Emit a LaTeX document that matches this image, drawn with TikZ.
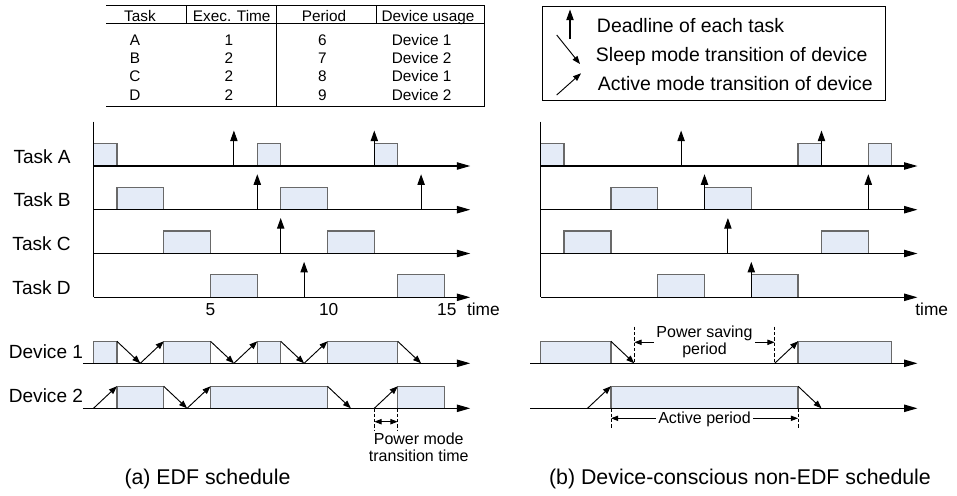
\documentclass[tikz,border=0pt]{standalone}
\usepackage{fontspec}
\setmainfont{Liberation Sans}
\usetikzlibrary{arrows.meta}
\definecolor{boxfill}{RGB}{228,235,247}
\definecolor{boxline}{RGB}{105,105,105}

\begin{document}
\begin{tikzpicture}[x=0.75pt,y=-0.75pt,
  tbox/.style={draw=boxline, fill=boxfill, line width=1pt},
  taxis/.style={line width=0.8pt, -{Triangle[length=10pt,width=5.5pt]}},
  deadline/.style={line width=0.8pt, -{Triangle[length=8pt,width=5.5pt]}},
  trans/.style={line width=0.7pt, -{Triangle[length=6pt,width=4.5pt]}},
  dimline/.style={line width=0.7pt, {Triangle[length=5.5pt,width=4pt]}-{Triangle[length=5.5pt,width=4pt]}},
  guide/.style={line width=0.6pt, dash pattern=on 2.5pt off 1.5pt},
  tabtext/.style={anchor=base, font=\fontsize{11.5}{13}\selectfont},
  rowlabel/.style={anchor=base east, inner sep=0pt, font=\fontsize{14.3}{16}\selectfont},
  legtext/.style={anchor=base west, inner sep=0pt, font=\fontsize{14.6}{16}\selectfont},
  ticktext/.style={anchor=base, inner sep=0pt, font=\fontsize{13}{15}\selectfont},
  note/.style={font=\fontsize{12}{12.5}\selectfont, align=center, inner sep=0pt},
  caption/.style={anchor=base, font=\fontsize{16}{18}\selectfont}]
\useasboundingbox (0,0) rectangle (957,496);
% task table
\draw [line width=0.7pt] (106,5) -- (484,5);
\draw [line width=0.7pt] (106,23.3) -- (484,23.3);
\draw [line width=0.7pt] (106,106.5) -- (484,106.5);
\draw [line width=0.7pt] (186,5) -- (186,23.3);
\draw [line width=0.7pt] (276,5) -- (276,106.5);
\draw [line width=0.7pt] (376.7,5) -- (376.7,23.3);
\draw [line width=0.7pt] (484,5) -- (484,106.5);
\node [tabtext] (hTask) at (140,21.7) {Task};
\node [tabtext] (hExec) at (231.7,21.7) {Exec. Time};
\node [tabtext] (hPeriod) at (324,21.7) {Period};
\node [tabtext] (hDevice) at (428,21.7) {Device usage};
\node [tabtext] (tA) at (135,45) {A};
\node [tabtext] (eA) at (229,45) {1};
\node [tabtext] (pA) at (322.5,45) {6};
\node [tabtext] (dA) at (421.7,45) {Device 1};
\node [tabtext] (tB) at (135,63.3) {B};
\node [tabtext] (eB) at (229,63.3) {2};
\node [tabtext] (pB) at (322.5,63.3) {7};
\node [tabtext] (dB) at (421.7,63.3) {Device 2};
\node [tabtext] (tC) at (135,81.7) {C};
\node [tabtext] (eC) at (229,81.7) {2};
\node [tabtext] (pC) at (322.5,81.7) {8};
\node [tabtext] (dC) at (421.7,81.7) {Device 1};
\node [tabtext] (tD) at (135,100) {D};
\node [tabtext] (eD) at (229,100) {2};
\node [tabtext] (pD) at (322.5,100) {9};
\node [tabtext] (dD) at (421.7,100) {Device 2};
% legend
\draw [line width=0.7pt] (542.7,6.7) rectangle (885,100);
\draw [deadline] (570,39) -- (570,9.5);
\draw [trans] (556.7,35) -- (580,64);
\draw [trans] (556.7,95) -- (581,73.3);
\node [legtext] (legDead) at (596.7,32.3) {Deadline of each task};
\node [legtext] (legSleep) at (595.7,61.7) {Sleep mode transition of device};
\node [legtext] (legActive) at (597.7,90.7) {Active mode transition of device};
% row labels
\node [rowlabel] (lblA) at (71,163.3) {Task A};
\node [rowlabel] (lblB) at (71,206.7) {Task B};
\node [rowlabel] (lblC) at (71,250.5) {Task C};
\node [rowlabel] (lblD) at (71,294.3) {Task D};
\node [rowlabel] (lblDev1) at (83.3,358.3) {Device 1};
\node [rowlabel] (lblDev2) at (83.3,402.8) {Device 2};
% (a) EDF schedule
\begin{scope}[shift={(93.5,0)}, x=17.55pt]
\draw [tbox] (0,166) rectangle (1,143.5);
\draw [tbox] (7,166) rectangle (8,143.5);
\draw [tbox] (12,166) rectangle (13,143.5);
\draw [tbox] (1,209.7) rectangle (3,187.2);
\draw [tbox] (8,209.7) rectangle (10,187.2);
\draw [tbox] (3,253.5) rectangle (5,231);
\draw [tbox] (10,253.5) rectangle (12,231);
\draw [tbox] (5,297.3) rectangle (7,274.8);
\draw [tbox] (13,297.3) rectangle (15,274.8);
\draw [line width=0.8pt] (0,121.7) -- (0,297.3);
\draw [taxis] (0,166) -- (16.1,166);
\draw [taxis] (0,209.7) -- (16.1,209.7);
\draw [taxis] (0,253.5) -- (16.1,253.5);
\draw [taxis] (0,297.3) -- (16.1,297.3);
\draw [deadline] (6,166) -- (6,130.5);
\draw [deadline] (12,166) -- (12,130.5);
\draw [deadline] (7,209.7) -- (7,174.2);
\draw [deadline] (14,209.7) -- (14,174.2);
\draw [deadline] (8,253.5) -- (8,218);
\draw [deadline] (9,297.3) -- (9,261.8);
\node [ticktext] (t5) at (5,315) {5};
\node [ticktext] (t10) at (10.05,315) {10};
\node [ticktext] (t15) at (15.1,315) {15};
\node [ticktext, anchor=base west] (timeA) at (15.95,315) {time};
\draw [tbox] (0,363.3) rectangle (1,341.3);
\draw [tbox] (3,363.3) rectangle (5,341.3);
\draw [tbox] (7,363.3) rectangle (8,341.3);
\draw [tbox] (10,363.3) rectangle (13,341.3);
\draw [taxis] (-0.45,363.3) -- (16.1,363.3);
\draw [trans] (1,341.3) -- (2,363.3);
\draw [trans] (2,363.3) -- (3,341.3);
\draw [trans] (5,341.3) -- (6,363.3);
\draw [trans] (6,363.3) -- (7,341.3);
\draw [trans] (8,341.3) -- (9,363.3);
\draw [trans] (9,363.3) -- (10,341.3);
\draw [trans] (13,341.3) -- (14,363.3);
\draw [tbox] (1,408.3) rectangle (3,386.3);
\draw [tbox] (5,408.3) rectangle (10,386.3);
\draw [tbox] (13,408.3) rectangle (15,386.3);
\draw [taxis] (-0.45,408.3) -- (16.1,408.3);
\draw [trans] (0,408.3) -- (1,386.3);
\draw [trans] (3,386.3) -- (4,408.3);
\draw [trans] (4,408.3) -- (5,386.3);
\draw [trans] (10,386.3) -- (11,408.3);
\draw [trans] (12,408.3) -- (13,386.3);
\draw [guide] (12,408.3) -- (12,431);
\draw [guide] (13,408.3) -- (13,431);
\draw [dimline] (12,421.7) -- (13,421.7);
\node [note, anchor=north] (pmtt) at (13.9,433) {Power mode\\transition time};
\end{scope}
\node [caption] (capA) at (207.5,484) {(a) EDF schedule};
% (b) device-conscious non-EDF schedule
\begin{scope}[shift={(540.7,0)}, x=17.55pt]
\draw [tbox] (0,166) rectangle (1,143.5);
\draw [tbox] (11,166) rectangle (12,143.5);
\draw [tbox] (14,166) rectangle (15,143.5);
\draw [tbox] (3,209.7) rectangle (5,187.2);
\draw [tbox] (7,209.7) rectangle (9,187.2);
\draw [tbox] (1,253.5) rectangle (3,231);
\draw [tbox] (12,253.5) rectangle (14,231);
\draw [tbox] (5,297.3) rectangle (7,274.8);
\draw [tbox] (9,297.3) rectangle (11,274.8);
\draw [line width=0.8pt] (0,121.7) -- (0,297.3);
\draw [taxis] (0,166) -- (16.1,166);
\draw [taxis] (0,209.7) -- (16.1,209.7);
\draw [taxis] (0,253.5) -- (16.1,253.5);
\draw [taxis] (0,297.3) -- (16.1,297.3);
\draw [deadline] (6,166) -- (6,130.5);
\draw [deadline] (12,166) -- (12,130.5);
\draw [deadline] (7,209.7) -- (7,174.2);
\draw [deadline] (14,209.7) -- (14,174.2);
\draw [deadline] (8,253.5) -- (8,218);
\draw [deadline] (9,297.3) -- (9,261.8);
\node [ticktext, anchor=base west] (timeB) at (16,315) {time};
\draw [tbox] (0,363.3) rectangle (3,341.3);
\draw [tbox] (11,363.3) rectangle (15,341.3);
\draw [taxis] (-0.45,363.3) -- (16.1,363.3);
\draw [trans] (3,341.3) -- (4,363.3);
\draw [trans] (10,363.3) -- (11,341.3);
\draw [guide] (4,326.7) -- (4,363.3);
\draw [guide] (10,326.7) -- (10,363.3);
\draw [dimline] (4,342.3) -- (10,342.3);
\node [note, fill=white, inner xsep=2pt, anchor=north] (psave) at (7,325.5) {Power saving\\period};
\draw [tbox] (3,408.3) rectangle (11,386.3);
\draw [taxis] (-0.45,408.3) -- (16.1,408.3);
\draw [trans] (2,408.3) -- (3,386.3);
\draw [trans] (11,386.3) -- (12,408.3);
\draw [guide] (3,408.3) -- (3,428);
\draw [guide] (11,408.3) -- (11,428);
\draw [dimline] (3,418.3) -- (11,418.3);
\node [note, fill=white, inner sep=1.5pt, anchor=base] (actp) at (7,423.3) {Active period};
\end{scope}
\node [caption] (capB) at (740,484) {(b) Device-conscious non-EDF schedule};
\end{tikzpicture}
\end{document}
